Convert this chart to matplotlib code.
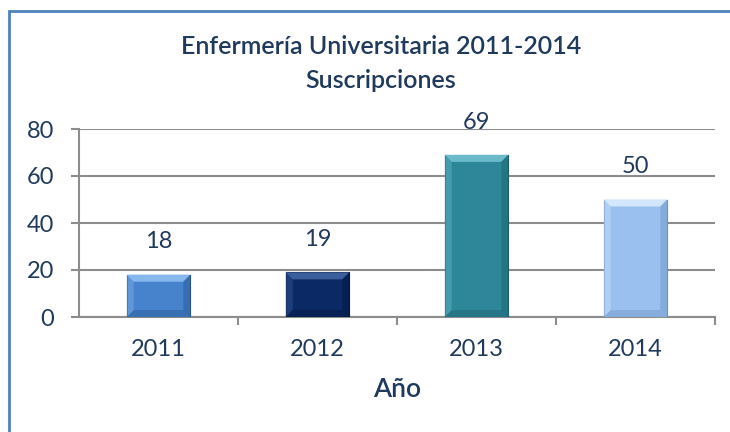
import matplotlib
matplotlib.use("Agg")
import matplotlib.pyplot as plt
from matplotlib.patches import Polygon, Rectangle

# ---- data ----
years = ["2011", "2012", "2013", "2014"]
values = [18, 19, 69, 50]
y_ticks = [0, 20, 40, 60, 80]
title_line1 = "Enfermería Universitaria 2011-2014"
title_line2 = "Suscripciones"
x_label = "Año"

face_colors = ["#4683CC", "#0B2965", "#2E8799", "#99C0EF"]
light_colors = ["#86B8EE", "#3A5F9C", "#6BBACB", "#D3E7FC"]
dark_colors = ["#27548F", "#04163D", "#1A5E6C", "#6A92C4"]

TXT = "#1F3A5C"
GRID = "#8C8C8C"
plt.rcParams["font.family"] = ["Lato", "DejaVu Sans"]

W, H = 730, 432
fig = plt.figure(figsize=(W / 100, H / 100), dpi=100)
fig.patch.set_facecolor("white")

# outer chart border (left and top visible)
fig.add_artist(Rectangle((9 / W, -0.05), 1.2, (H - 11) / H + 0.05,
                         transform=fig.transFigure, fill=False,
                         edgecolor="#5082BE", linewidth=2))

ax = fig.add_axes([79 / W, 1 - 317 / H, (715 - 79) / W, (317 - 129) / H])
ax.set_xlim(-0.5, len(years) - 0.5)
ax.set_ylim(0, 80)

bw = 0.40
xs = list(range(len(years)))
bars = ax.bar(xs, values, width=bw, color=face_colors, edgecolor=dark_colors,
              linewidth=0.8, zorder=3)

# bevel effect derived from the bar geometry
fig.canvas.draw()
inv = ax.transData.inverted()
p0 = inv.transform((0, 0))
p1 = inv.transform((7, 7))
bx, by = p1[0] - p0[0], p1[1] - p0[1]
for b, lc, dc in zip(bars, light_colors, dark_colors):
    x0, w, h = b.get_x(), b.get_width(), b.get_height()
    x1 = x0 + w
    top = [(x0, h), (x1, h), (x1 - bx, h - by), (x0 + bx, h - by)]
    bot = [(x0, 0), (x1, 0), (x1 - bx, by), (x0 + bx, by)]
    left = [(x0, 0), (x0, h), (x0 + bx, h - by), (x0 + bx, by)]
    right = [(x1, 0), (x1, h), (x1 - bx, h - by), (x1 - bx, by)]
    ax.add_patch(Polygon(top, closed=True, facecolor=lc, edgecolor="none", zorder=4))
    ax.add_patch(Polygon(bot, closed=True, facecolor=dc, edgecolor="none", alpha=0.4, zorder=4))
    ax.add_patch(Polygon(left, closed=True, facecolor=lc, edgecolor="none", alpha=0.4, zorder=4))
    ax.add_patch(Polygon(right, closed=True, facecolor=dc, edgecolor="none", alpha=0.45, zorder=4))

# value labels
for x, v in zip(xs, values):
    ax.annotate(str(v), (x, v), xytext=(0, 16), textcoords="offset points",
                ha="center", va="bottom", fontsize=17, color=TXT)

# axes styling
for s in ["top", "right"]:
    ax.spines[s].set_visible(False)
ax.spines["left"].set_color(GRID)
ax.spines["bottom"].set_color(GRID)
ax.spines["left"].set_linewidth(1.5)
ax.spines["bottom"].set_linewidth(1.5)
ax.set_yticks(y_ticks)
ax.set_yticklabels([str(t) for t in y_ticks], fontsize=17, color=TXT)
ax.yaxis.grid(True, color=GRID, linewidth=1.5, zorder=0)
ax.set_axisbelow(True)
ax.tick_params(axis="y", length=6, width=1.5, color=GRID, pad=12)

ax.set_xticks(xs)
ax.set_xticklabels(years, fontsize=17, color=TXT)
ax.set_xticks([i + 0.5 for i in xs], minor=True)
ax.tick_params(axis="x", which="major", length=0, pad=16)
ax.tick_params(axis="x", which="minor", length=6, width=1.5, color=GRID, direction="out")

ax.set_xlabel(x_label, fontsize=19, color=TXT, labelpad=12, fontweight="semibold")

fig.text(381 / W, 1 - 47 / H, title_line1, ha="center", va="center",
         fontsize=18, color=TXT, fontweight="semibold")
fig.text(381 / W, 1 - 80 / H, title_line2, ha="center", va="center",
         fontsize=18, color=TXT, fontweight="semibold")

fig.savefig("out.png", dpi=100)
